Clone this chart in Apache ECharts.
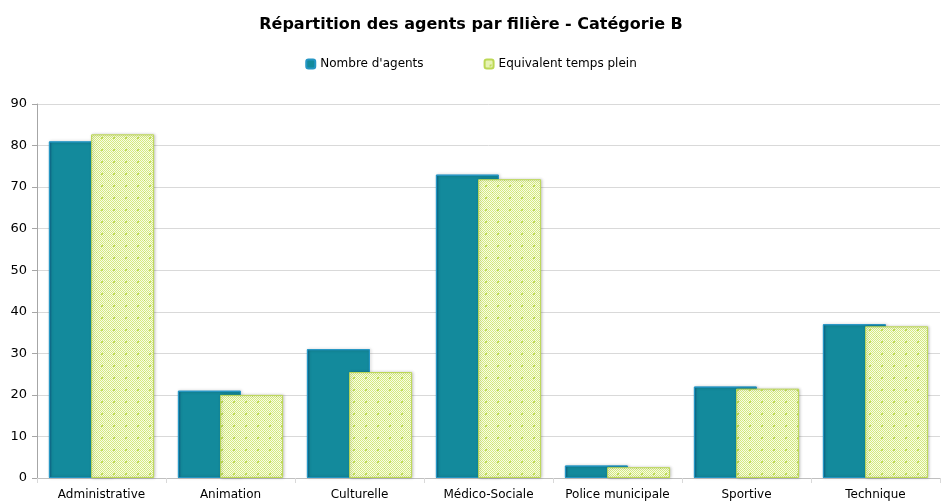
<!DOCTYPE html>
<html>
<head>
<meta charset="utf-8">
<script src="https://cdn.jsdelivr.net/npm/echarts@6/dist/echarts.min.js"></script>
<style>
  html, body { margin: 0; padding: 0; background: #fff; }
  #chart { width: 942px; height: 504px; }
</style>
</head>
<body>
<div id="chart"></div>
<script>
  var categories = ['Administrative', 'Animation', 'Culturelle', 'Médico-Sociale', 'Police municipale', 'Sportive', 'Technique'];
  var nbAgents = [81, 21, 31, 73, 3, 22, 37];
  var etp = [82.7, 20, 25.5, 71.9, 2.6, 21.5, 36.5];
  var yTicks = [0, 10, 20, 30, 40, 50, 60, 70, 80, 90];

  // motif quadrillé vert clair (comme le remplissage Excel)
  function makePattern() {
    var c = document.createElement('canvas');
    c.width = 12; c.height = 12;
    var ctx = c.getContext('2d');
    ctx.fillStyle = '#f8fce6';
    ctx.fillRect(0, 0, 12, 12);
    ctx.fillStyle = '#d5ea80';
    for (var y = 0; y < 12; y++) {
      for (var x = 0; x < 12; x++) {
        if ((x + y) % 2 === 0) ctx.fillRect(x, y, 1, 1);
      }
    }
    ctx.fillStyle = '#c0dc5a';
    ctx.fillRect(5, 5, 2, 2);
    ctx.fillRect(0, 0, 1, 1);
    return c;
  }
  var pattern = { image: makePattern(), repeat: 'repeat' };

  var myChart = echarts.init(document.getElementById('chart'));
  var options = {
    backgroundColor: '#fff',
    textStyle: { fontFamily: 'DejaVu Sans' },
    title: {
      text: 'Répartition des agents par filière - Catégorie B',
      left: 'center',
      top: 12,
      textStyle: { fontSize: 16, fontWeight: 'bold', color: '#000', fontFamily: 'DejaVu Sans' }
    },
    legend: {
      top: 53,
      left: 'center',
      itemWidth: 9,
      itemHeight: 9,
      itemGap: 60,
      textStyle: { fontSize: 12, color: '#000' },
      data: ['Nombre d\'agents', 'Equivalent temps plein']
    },
    grid: { left: 37, right: 2, top: 104, bottom: 26 },
    xAxis: {
      type: 'category',
      data: categories,
      axisLine: { lineStyle: { color: '#bfbfbf' } },
      axisTick: { show: true, lineStyle: { color: '#d9d9d9' } },
      axisLabel: { color: '#000', fontSize: 12, margin: 11, interval: 0 }
    },
    yAxis: {
      type: 'value',
      min: yTicks[0],
      max: yTicks[yTicks.length - 1],
      interval: 10,
      axisLine: { show: true, lineStyle: { color: '#a6a6a6' } },
      axisTick: { show: true, length: 5, lineStyle: { color: '#a6a6a6' } },
      axisLabel: { color: '#000', fontSize: 13, margin: 10 },
      splitLine: { lineStyle: { color: '#d9d9d9' } }
    },
    series: [{
      name: 'Nombre d\'agents',
      type: 'bar',
      data: nbAgents,
      barWidth: 63,
      barGap: '-33%',
      itemStyle: {
        color: {
          type: 'linear', x: 0, y: 0, x2: 1, y2: 0,
          colorStops: [
            { offset: 0, color: '#0d5f8c' },
            { offset: 0.05, color: '#138a9c' },
            { offset: 1, color: '#138a9c' }
          ]
        },
        borderColor: '#2596c4',
        borderWidth: 1,
        shadowColor: 'rgba(0,0,0,0.25)',
        shadowBlur: 3,
        shadowOffsetX: 1
      }
    }, {
      name: 'Equivalent temps plein',
      type: 'bar',
      data: etp,
      barWidth: 63,
      itemStyle: {
        color: pattern,
        borderColor: '#bcd854',
        borderWidth: 1,
        shadowColor: 'rgba(0,0,0,0.2)',
        shadowBlur: 3,
        shadowOffsetX: 1
      }
    }]
  };
  myChart.setOption(options);
</script>
</body>
</html>
